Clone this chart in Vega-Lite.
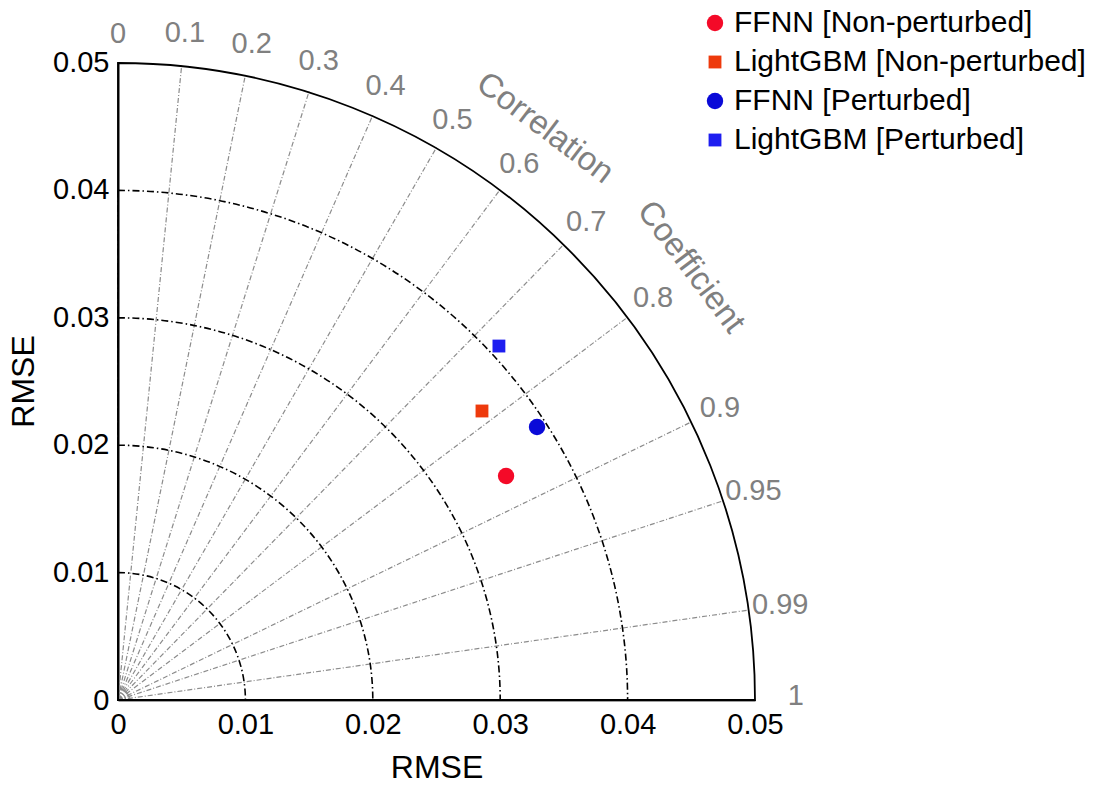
{
  "$schema": "https://vega.github.io/schema/vega-lite/v6.json",
  "width": 637,
  "height": 638,
  "autosize": {"type": "none"},
  "padding": {"left": 118, "top": 62, "right": 352, "bottom": 89},
  "background": "white",
  "config": {
    "view": {"stroke": null},
    "font": "Liberation Sans",
    "axis": {"grid": false, "ticks": false, "labelFont": "Liberation Sans", "titleFont": "Liberation Sans", "labelColor": "black", "titleColor": "black", "titleFontWeight": "normal", "zindex": 1}
  },
  "encoding": {
    "x": {"field": "x", "type": "quantitative",
      "scale": {"domain": [0, 0.05], "nice": false, "zero": true},
      "axis": {"values": [0, 0.01, 0.02, 0.03, 0.04, 0.05], "format": ".2~f", "labelFontSize": 29, "labelPadding": 10, "domainColor": "#404040", "domainWidth": 2, "title": "RMSE", "titleFontSize": 32, "titlePadding": 13, "labelFlush": false, "labelOverlap": false}},
    "y": {"field": "y", "type": "quantitative",
      "scale": {"domain": [0, 0.05], "nice": false, "zero": true},
      "axis": {"values": [0, 0.01, 0.02, 0.03, 0.04, 0.05], "format": ".2~f", "labelFontSize": 29, "labelPadding": 9, "domainColor": "black", "domainWidth": 2, "title": "RMSE", "titleFontSize": 32, "titlePadding": 12, "labelFlush": false, "labelOverlap": false}}
  },
  "layer": [
    {
      "data": {"values": [{"r": 0.0003, "x": 0, "y": 0}, {"r": 0.0006, "x": 0, "y": 0}, {"r": 0.0009, "x": 0, "y": 0}]},
      "mark": {"type": "arc", "filled": false, "stroke": "#909090", "strokeWidth": 1.2, "theta": 0, "theta2": 1.5707963},
      "encoding": {
        "radius": {"field": "r", "type": "quantitative", "stack": null, "scale": {"type": "linear", "domain": [0, 0.05], "range": [0, 637], "zero": true, "nice": false}}
      }
    },
    {
      "data": {"values": [
        {"c": 0.1, "x": 0, "y": 0, "ex": 0.005, "ey": 0.04975},
        {"c": 0.2, "x": 0, "y": 0, "ex": 0.01, "ey": 0.04899},
        {"c": 0.3, "x": 0, "y": 0, "ex": 0.015, "ey": 0.0477},
        {"c": 0.4, "x": 0, "y": 0, "ex": 0.02, "ey": 0.04583},
        {"c": 0.5, "x": 0, "y": 0, "ex": 0.025, "ey": 0.0433},
        {"c": 0.6, "x": 0, "y": 0, "ex": 0.03, "ey": 0.04},
        {"c": 0.7, "x": 0, "y": 0, "ex": 0.035, "ey": 0.03571},
        {"c": 0.8, "x": 0, "y": 0, "ex": 0.04, "ey": 0.03},
        {"c": 0.9, "x": 0, "y": 0, "ex": 0.045, "ey": 0.02179},
        {"c": 0.95, "x": 0, "y": 0, "ex": 0.0475, "ey": 0.01561},
        {"c": 0.99, "x": 0, "y": 0, "ex": 0.0495, "ey": 0.00705}
      ]},
      "mark": {"type": "rule", "color": "#8c8c8c", "strokeWidth": 1.2, "strokeDash": [5, 2, 1, 2]},
      "encoding": {
        "x2": {"field": "ex"},
        "y2": {"field": "ey"}
      }
    },
    {
      "data": {"values": [{"r": 0.01, "x": 0, "y": 0}, {"r": 0.02, "x": 0, "y": 0}, {"r": 0.03, "x": 0, "y": 0}, {"r": 0.04, "x": 0, "y": 0}]},
      "mark": {"type": "arc", "filled": false, "stroke": "black", "strokeWidth": 1.6, "strokeDash": [7, 3, 1.5, 3], "theta": 0, "theta2": 1.5707963},
      "encoding": {
        "radius": {"field": "r", "type": "quantitative", "stack": null, "scale": {"type": "linear", "domain": [0, 0.05], "range": [0, 637], "zero": true, "nice": false}}
      }
    },
    {
      "data": {"values": [{"r": 0.05, "x": 0, "y": 0}]},
      "mark": {"type": "arc", "filled": false, "stroke": "black", "strokeWidth": 1.8, "theta": 0, "theta2": 1.5707963},
      "encoding": {
        "radius": {"field": "r", "type": "quantitative", "stack": null, "scale": {"type": "linear", "domain": [0, 0.05], "range": [0, 637], "zero": true, "nice": false}}
      }
    },
    {
      "data": {"values": [
        {"lab": "0", "x": 0, "y": 0.0522},
        {"lab": "0.1", "x": 0.00525, "y": 0.05224},
        {"lab": "0.2", "x": 0.0105, "y": 0.05144},
        {"lab": "0.3", "x": 0.01575, "y": 0.05008},
        {"lab": "0.4", "x": 0.021, "y": 0.04812},
        {"lab": "0.5", "x": 0.02625, "y": 0.04547},
        {"lab": "0.6", "x": 0.0315, "y": 0.042},
        {"lab": "0.7", "x": 0.03675, "y": 0.03749},
        {"lab": "0.8", "x": 0.042, "y": 0.0315},
        {"lab": "0.9", "x": 0.04725, "y": 0.02288},
        {"lab": "0.95", "x": 0.049875, "y": 0.01639},
        {"lab": "0.99", "x": 0.051975, "y": 0.00741},
        {"lab": "1", "x": 0.0532, "y": 0.0003}
      ]},
      "mark": {"type": "text", "color": "#808080", "fontSize": 29, "align": "center", "baseline": "middle", "font": "Liberation Sans"},
      "encoding": {
        "text": {"field": "lab", "type": "nominal"}
      }
    },
    {
      "data": {"values": [{"t": "Correlation", "x": 0.03352, "y": 0.04483}]},
      "mark": {"type": "text", "color": "#808080", "fontSize": 33, "align": "center", "baseline": "middle", "angle": 37, "font": "Liberation Sans"},
      "encoding": {
        "text": {"field": "t", "type": "nominal"}
      }
    },
    {
      "data": {"values": [{"t": "Coefficient", "x": 0.04497, "y": 0.03394}]},
      "mark": {"type": "text", "color": "#808080", "fontSize": 33, "align": "center", "baseline": "middle", "angle": 53, "font": "Liberation Sans"},
      "encoding": {
        "text": {"field": "t", "type": "nominal"}
      }
    },
    {
      "data": {"values": [
        {"series": "FFNN [Non-perturbed]", "x": 0.03046, "y": 0.01755},
        {"series": "LightGBM [Non-perturbed]", "x": 0.02857, "y": 0.02265},
        {"series": "FFNN [Perturbed]", "x": 0.03289, "y": 0.0214},
        {"series": "LightGBM [Perturbed]", "x": 0.0299, "y": 0.02774}
      ]},
      "mark": {"type": "point", "filled": true, "opacity": 1},
      "encoding": {
        "color": {"field": "series", "type": "nominal",
          "scale": {"domain": ["FFNN [Non-perturbed]", "LightGBM [Non-perturbed]", "FFNN [Perturbed]", "LightGBM [Perturbed]"], "range": ["#f40a28", "#ee3a0c", "#0a0ad8", "#1e1ef0"]},
          "legend": {"title": null, "orient": "none", "legendX": 582, "legendY": -54, "labelFontSize": 30, "labelColor": "black", "labelFont": "Liberation Sans", "labelOffset": 4, "rowPadding": 9, "padding": 0, "labelLimit": 500}},
        "shape": {"field": "series", "type": "nominal",
          "scale": {"domain": ["FFNN [Non-perturbed]", "LightGBM [Non-perturbed]", "FFNN [Perturbed]", "LightGBM [Perturbed]"], "range": ["circle", "square", "circle", "square"]},
          "legend": {"title": null, "orient": "none", "legendX": 582, "legendY": -54, "labelFontSize": 30, "labelColor": "black", "labelFont": "Liberation Sans", "labelOffset": 4, "rowPadding": 9, "padding": 0, "labelLimit": 500}},
        "size": {"field": "series", "type": "nominal",
          "scale": {"type": "ordinal", "domain": ["FFNN [Non-perturbed]", "LightGBM [Non-perturbed]", "FFNN [Perturbed]", "LightGBM [Perturbed]"], "range": [270, 165, 270, 165]},
          "legend": {"title": null, "orient": "none", "legendX": 582, "legendY": -54, "labelFontSize": 30, "labelColor": "black", "labelFont": "Liberation Sans", "labelOffset": 4, "rowPadding": 9, "padding": 0, "labelLimit": 500}}
      }
    }
  ]
}
